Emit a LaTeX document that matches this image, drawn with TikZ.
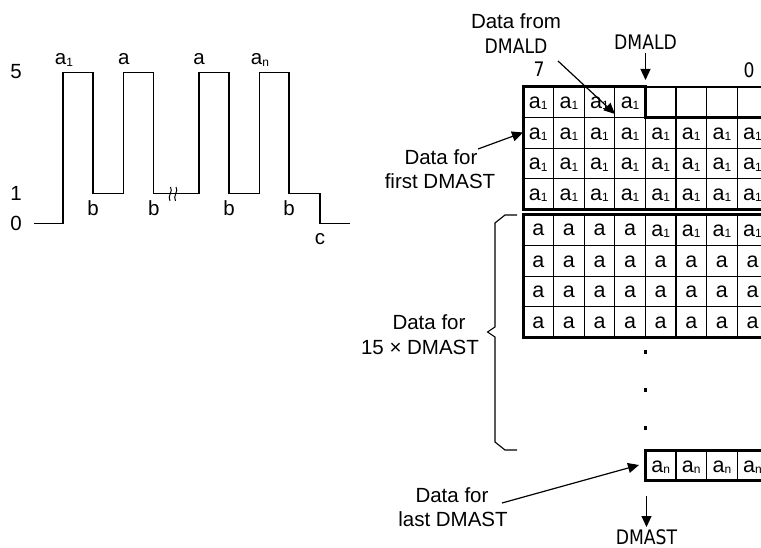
\documentclass[tikz,border=0pt]{standalone}
\usepackage{fontspec}
\setmainfont{Liberation Sans}
\newfontfamily\tah{DejaVu Sans}[FakeStretch=0.86]
\usetikzlibrary{arrows.meta}
\newcommand\mysub[1]{\raisebox{-1.2pt}{\fontsize{12}{12}\selectfont #1}}
\begin{document}
\begin{tikzpicture}[x=1pt,y=-1pt,
  lbl/.style={font=\fontsize{20.5}{24}\selectfont, inner sep=0pt, anchor=base},
  tlbl/.style={font=\tah\fontsize{20}{22}\selectfont, inner sep=0pt, anchor=base},
  cell/.style={font=\fontsize{21.5}{24}\selectfont, inner sep=0pt, anchor=base},
  gridline/.style={line width=1.2pt},
  border/.style={line width=3pt, line join=miter},
  wave/.style={line width=1.3pt, line join=miter},
  arr/.style={line width=1.2pt, -{Triangle[length=11pt,width=10pt]}},
]
\useasboundingbox (0,0) rectangle (761,548);
\clip (0,0) rectangle (761,548);

% ---------------- waveform ----------------
\draw[wave] (34,223.3) -- (63,223.3) -- (63,72.7) -- (93,72.7) -- (93,193.7)
  -- (123.7,193.7) -- (123.7,72.7) -- (153.7,72.7) -- (153.7,193.7)
  -- (199,193.7) -- (199,72.7) -- (229,72.7) -- (229,193.7)
  -- (259.7,193.7) -- (259.7,72.7) -- (289,72.7) -- (289,193.7)
  -- (320,193.7) -- (320,223.3) -- (350,223.3);
\foreach \bx in {170,175.5}{
  \draw[line width=1pt] (\bx+0.5,187) .. controls (\bx+3.5,191) and (\bx-3,196) .. (\bx,201);
}
\node[lbl] (v5) at (16,79) {5};
\node[lbl] (v1) at (16,201) {1};
\node[lbl] (v0) at (16,231) {0};
\node[lbl] (la1) at (64,65) {a\mysub{1}};
\node[lbl] (la2) at (123.7,65) {a};
\node[lbl] (la3) at (199,65) {a};
\node[lbl] (lan) at (260,65) {a\mysub{n}};
\node[lbl] (lb1) at (93,216) {b};
\node[lbl] (lb2) at (153.7,216) {b};
\node[lbl] (lb3) at (229,216) {b};
\node[lbl] (lb4) at (289,216) {b};
\node[lbl] (lc) at (320,245) {c};

% ---------------- block 1 ----------------
\foreach \c in {5,...,7}
  \draw[gridline] ({523+\c*30.6},87) -- ({523+\c*30.6},117.6);
\draw[gridline] (645.4,87) -- (767.8,87);
\foreach \c in {1,...,7}
  \draw[gridline] ({523+\c*30.6},117.6) -- ({523+\c*30.6},209.4);
\foreach \c in {1,...,3}
  \draw[gridline] ({523+\c*30.6},87) -- ({523+\c*30.6},117.6);
\foreach \r in {2,3}
  \draw[gridline] (523,{87+\r*30.6}) -- (767.8,{87+\r*30.6});
\draw[gridline] (523,117.6) -- (645.4,117.6);
\draw[border] (767.8,117.6) -- (645.4,117.6) -- (645.4,87) -- (523,87) -- (523,209.4) -- (767.8,209.4) -- cycle;
\foreach \c in {1,...,4}
  \node[cell] (p1-\c) at ({523+(\c-0.5)*30.6},108.6) {a\mysub{1}};
\foreach \r in {2,3,4}
  \foreach \c in {1,...,8}
    \node[cell] (p\r-\c) at ({523+(\c-0.5)*30.6},{87+(\r-1)*30.6+21.8}) {a\mysub{1}};

% ---------------- block 2 ----------------
\foreach \c in {1,...,7}
  \draw[gridline] ({523+\c*30.6},215) -- ({523+\c*30.6},337.4);
\foreach \r in {1,2,3}
  \draw[gridline] (523,{215+\r*30.6}) -- (767.8,{215+\r*30.6});
\draw[border] (523,215) rectangle (767.8,337.4);
\foreach \c in {1,...,4}
  \node[cell] (q1-\c) at ({523+(\c-0.5)*30.6},236) {a};
\foreach \c in {5,...,8}
  \node[cell] (q1-\c) at ({523+(\c-0.5)*30.6},236.5) {a\mysub{1}};
\foreach \r in {2,3,4}
  \foreach \c in {1,...,8}
    \node[cell] (q\r-\c) at ({523+(\c-0.5)*30.6},{215+(\r-1)*30.6+21.5}) {a};

% dots
\foreach \dy [count=\i] in {352,390,428}
  \fill (643.6,\dy-1.8) rectangle (647.2,\dy+1.8) coordinate (dot\i);

% ---------------- block 3 ----------------
\foreach \c in {5,...,7}
  \draw[gridline] ({523+\c*30.6},450) -- ({523+\c*30.6},480.6);
\draw[border] (645.4,450) rectangle (767.8,480.6);
\foreach \c in {5,...,8}
  \node[cell] (s-\c) at ({523+(\c-0.5)*30.6},472) {a\mysub{n}};

% ---------------- labels ----------------
\node[lbl] (dfrom) at (516,29) {Data from};
\node[tlbl] (dmaldL) at (516,54) {DMALD};
\node[tlbl] (dmaldR) at (645.5,50) {DMALD};
\node[tlbl] (seven) at (539,77) {7};
\node[tlbl] (zero) at (749,78) {0};
\node[lbl] (ffor) at (441,165) {Data for};
\node[lbl] (ffirst) at (440,189) {first DMAST};
\node[lbl] (mfor) at (429,330) {Data for};
\node[lbl] (mcount) at (420,354) {15 × DMAST};
\node[lbl] (lfor) at (452,502) {Data for};
\node[lbl] (llast) at (453,526) {last DMAST};
\node[tlbl] (dmast) at (646.5,544.5) {DMAST};

% ---------------- arrows ----------------
\coordinate (dfS) at (558,61);
\coordinate (dfT) at (615,114);
\draw[arr] (dfS) -- (dfT);
\coordinate (dlS) at (645.5,53);
\coordinate (dlT) at (645.5,80);
\draw[arr] (dlS) -- (dlT);
\coordinate (ffS) at (478,149);
\coordinate (ffT) at (523,132.5);
\draw[arr] (ffS) -- (ffT);
\coordinate (lfS) at (502,503);
\coordinate (lfT) at (639,465);
\draw[arr] (lfS) -- (lfT);
\coordinate (dmS) at (646.5,496);
\coordinate (dmT) at (646.5,527);
\draw[arr] (dmS) -- (dmT);

% brace
\draw[line width=1.1pt] (517,215) -- (505,215) -- (495,223) -- (495,327) -- (487.5,332)
  -- (495,337) -- (495,442) -- (505,450) -- (517,450);
\end{tikzpicture}
\end{document}
